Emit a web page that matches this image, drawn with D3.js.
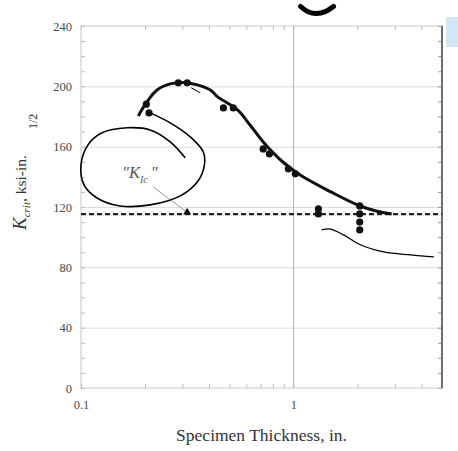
<!DOCTYPE html>
<html>
<head>
<meta charset="utf-8">
<script src="https://cdn.jsdelivr.net/npm/d3@7"></script>
<style>
  body { margin: 0; background: #fff; }
  svg { display: block; font-family: "Liberation Serif", "Times New Roman", serif; }
</style>
</head>
<body>
<div id="chart"></div>
<script>
// measured specimens
const thickness = [0.203, 0.209, 0.287, 0.316, 0.468, 0.521, 0.72, 0.77, 0.946, 1.02, 1.31, 1.31, 2.05, 2.05, 2.05, 2.05];
const kcrit     = [188.2, 182.4, 202.3, 202.3, 185.7, 185.7, 158.5, 155.2, 145.3, 142.0, 118.7, 115.4, 120.7, 115.4, 110.0, 104.8];

// fitted trend curve
const fitX = [0.186, 0.205, 0.228, 0.263, 0.303, 0.353, 0.406, 0.44, 0.544, 0.627, 0.722, 0.897, 1.08, 1.5, 2.03, 2.5, 2.9];
const fitY = [180.4, 190.0, 197.6, 201.6, 202.6, 201.0, 197.6, 193.0, 184.5, 174.0, 163.0, 149.5, 141.0, 130.0, 121.0, 117.0, 115.4];

// plane strain value
const kicValue = 115.3;
const kicPoint = [0.316, 116.5];

// axis ticks
const yLabels = [0, 40, 80, 120, 160, 200, 240];
const yGrid = [40, 80, 120, 160, 200];
const xLabels = [0.1, 1];
const xMinor = [0.2, 0.3, 0.4, 0.5, 0.6, 0.7, 0.8, 0.9, 2, 3, 4];

// hand drawn marks over the scan (data units)
const loopX = [0.2116, 0.263, 0.3267, 0.3763, 0.3804, 0.3526, 0.2931, 0.2116, 0.1527, 0.119, 0.1033, 0.1, 0.1079, 0.1256, 0.1648, 0.2116, 0.263, 0.3094];
const loopY = [182.4, 175.8, 166.5, 156.5, 147.3, 136.6, 127.4, 121.4, 120.7, 126.0, 134.7, 147.9, 161.2, 169.2, 172.5, 171.1, 163.2, 152.6];
const dashX = [0.3302, 0.3641];
const dashY = [199.0, 195.7];
const tailX = [1.356, 1.479, 1.721, 2.026, 2.658, 3.564, 4.576];
const tailY = [104.8, 105.5, 101.5, 95.5, 90.2, 88.2, 86.9];
const blobX = [1.079, 1.17, 1.284, 1.41, 1.545];
const blobY = [253.0, 249.5, 248.3, 249.5, 253.0];

const W = 458, H = 451;
const margin = {top: 26, right: 16, bottom: 63, left: 81};
const width = W - margin.left - margin.right;
const height = H - margin.top - margin.bottom;

const svg = d3.select('#chart').append('svg')
  .attr('width', W).attr('height', H);

const g = svg.append('g')
  .attr('transform', `translate(${margin.left},${margin.top})`);

const x = d3.scaleLog().domain([0.1, 5]).range([0, width]);
const y = d3.scaleLinear().domain([0, 240]).range([height, 0]);

const line = d3.line()
  .x(d => x(d[0]))
  .y(d => y(d[1]))
  .curve(d3.curveCatmullRom);

// horizontal grid
g.append('g')
  .call(d3.axisLeft(y).tickValues(yGrid).tickSize(-width).tickFormat(''))
  .call(s => s.select('.domain').remove())
  .selectAll('line').attr('stroke', '#dcdcdc');

// vertical line at 1 in.
g.append('line')
  .attr('x1', x(1)).attr('x2', x(1))
  .attr('y1', 0).attr('y2', height)
  .attr('stroke', '#b4b4b4');

// minor ticks, pointing inward
const minorY = y.ticks(24);
const allX = xMinor.concat(xLabels);
g.append('g')
  .call(d3.axisLeft(y).tickValues(minorY).tickSize(-4).tickFormat(''))
  .call(s => s.select('.domain').remove())
  .selectAll('line').attr('stroke', '#bbb');
g.append('g')
  .attr('transform', `translate(${width},0)`)
  .call(d3.axisRight(y).tickValues(minorY).tickSize(-4).tickFormat(''))
  .call(s => s.select('.domain').remove())
  .selectAll('line').attr('stroke', '#999');
g.append('g')
  .attr('transform', `translate(0,${height})`)
  .call(d3.axisBottom(x).tickValues(allX).tickSize(-4).tickFormat(''))
  .call(s => s.select('.domain').remove())
  .selectAll('line').attr('stroke', '#bbb');
g.append('g')
  .call(d3.axisTop(x).tickValues(allX).tickSize(-4).tickFormat(''))
  .call(s => s.select('.domain').remove())
  .selectAll('line').attr('stroke', '#bbb');

// frame
g.append('rect')
  .attr('width', width).attr('height', height)
  .attr('fill', 'none').attr('stroke', '#c8c8c8');
g.append('line')
  .attr('x1', width).attr('x2', width)
  .attr('y1', 0).attr('y2', height)
  .attr('stroke', '#6e6e6e').attr('stroke-width', 2);

// tick labels
g.append('g')
  .call(d3.axisLeft(y).tickValues(yLabels).tickSize(0).tickPadding(9).tickFormat(d3.format('d')))
  .call(s => s.select('.domain').remove())
  .selectAll('text')
  .attr('font-family', '"Liberation Serif", serif')
  .attr('font-size', 12.5).attr('fill', '#4a4a4a');
g.append('g')
  .attr('transform', `translate(0,${height})`)
  .call(d3.axisBottom(x).tickValues(xLabels).tickSize(0).tickPadding(12).tickFormat(d => d))
  .call(s => s.select('.domain').remove())
  .selectAll('text')
  .attr('font-family', '"Liberation Serif", serif')
  .attr('font-size', 12.5).attr('fill', '#4a4a4a');

// dashed K_Ic line
g.append('line')
  .attr('x1', 0).attr('x2', width)
  .attr('y1', y(kicValue)).attr('y2', y(kicValue))
  .attr('stroke', '#222').attr('stroke-width', 2.2)
  .attr('stroke-dasharray', '5,3');

// trend curve
g.append('path')
  .datum(fitX.map((d, i) => [d, fitY[i]]))
  .attr('fill', 'none').attr('stroke', '#111').attr('stroke-width', 3)
  .attr('d', line);

// data points
g.selectAll('.pt')
  .data(thickness.map((d, i) => [d, kcrit[i]]))
  .join('circle')
  .attr('class', 'pt')
  .attr('cx', d => x(d[0])).attr('cy', d => y(d[1]))
  .attr('r', 3.6).attr('fill', '#111');

// K_Ic label, arrow and marker
const kicLabel = [0.156, 139.3];
const arrowTail = [0.2186, 133.3];
g.append('line')
  .attr('x1', x(arrowTail[0])).attr('y1', y(arrowTail[1]))
  .attr('x2', x(kicPoint[0])).attr('y2', y(kicPoint[1]))
  .attr('stroke', '#999').attr('stroke-width', 1);
g.append('path')
  .attr('d', d3.symbol(d3.symbolTriangle, 28)())
  .attr('transform', `translate(${x(kicPoint[0])},${y(kicPoint[1])})`)
  .attr('fill', '#111');
const kt = g.append('text')
  .attr('x', x(kicLabel[0])).attr('y', y(kicLabel[1]))
  .attr('font-size', 16.5).attr('font-style', 'italic').attr('fill', '#555');
kt.append('tspan').text('"K');
kt.append('tspan').attr('font-size', 10).attr('dy', 5).text('Ic');
kt.append('tspan').attr('dy', -5).attr('dx', 3).text('"');

// hand drawn marks
g.append('path')
  .datum(loopX.map((d, i) => [d, loopY[i]]))
  .attr('fill', 'none').attr('stroke', '#000').attr('stroke-width', 1.6)
  .attr('d', line);
g.append('path')
  .datum(dashX.map((d, i) => [d, dashY[i]]))
  .attr('fill', 'none').attr('stroke', '#000').attr('stroke-width', 1)
  .attr('d', line);
g.append('path')
  .datum(tailX.map((d, i) => [d, tailY[i]]))
  .attr('fill', 'none').attr('stroke', '#000').attr('stroke-width', 1.2)
  .attr('d', line);
g.append('path')
  .datum(blobX.map((d, i) => [d, blobY[i]]))
  .attr('fill', 'none').attr('stroke', '#000').attr('stroke-width', 5)
  .attr('stroke-linecap', 'round')
  .attr('d', line);

// bit of a blue box on the right of the scan
svg.append('rect')
  .attr('x', margin.left + width + 4).attr('y', 17)
  .attr('width', 14).attr('height', 30)
  .attr('fill', '#d3e6f7');

// axis titles
svg.append('text')
  .attr('x', margin.left + x(Math.sqrt(0.5))).attr('y', 441)
  .attr('text-anchor', 'middle')
  .attr('font-size', 17.5).attr('fill', '#333')
  .text('Specimen Thickness, in.');

const yt = svg.append('text')
  .attr('transform', 'translate(26,230) rotate(-90)')
  .attr('font-size', 15.5).attr('fill', '#333');
yt.append('tspan').attr('font-style', 'italic').attr('font-size', 19).text('K');
yt.append('tspan').attr('font-style', 'italic').attr('font-size', 11).attr('dy', 4).text('crit');
yt.append('tspan').attr('dy', -4).text(', ksi-in.');
svg.append('text')
  .attr('transform', 'translate(37,129) rotate(-90)')
  .attr('font-size', 12).attr('fill', '#333')
  .text('1/2');
</script>
</body>
</html>
